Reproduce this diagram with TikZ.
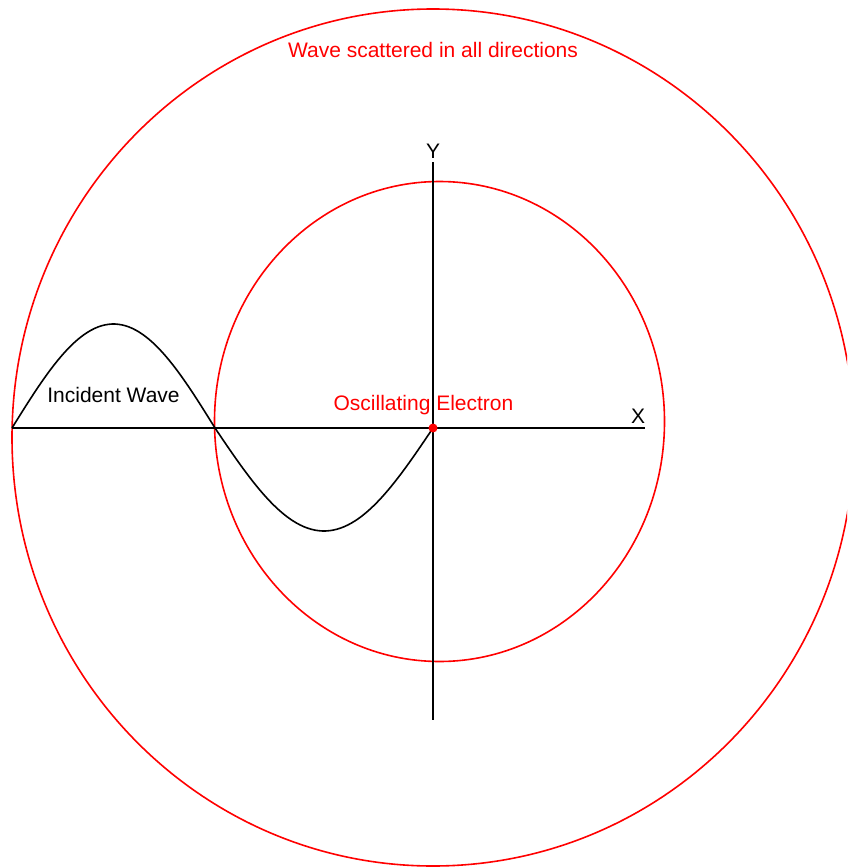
\documentclass[tikz,border=0pt]{standalone}
\usepackage{fontspec}
\setmainfont{Liberation Sans}
\usepackage{tikz}
\usetikzlibrary{positioning}

\begin{document}
\begin{tikzpicture}[
    x=1pt, y=-1pt,
    font=\fontsize{21}{25}\selectfont,
    wavefront/.style = {draw=red, line width=1.6pt},
    axis/.style = {draw=black, line width=1.6pt},
    lbl/.style = {anchor=base, inner sep=0pt},
    redlbl/.style = {lbl, text=red},
    dot/.style = {circle, fill=red, inner sep=0pt, minimum size=9pt}
]
    \useasboundingbox (0,0) rectangle (847,867);
    \clip (0,0) rectangle (847,867);
    \fill[white] (0,0) rectangle (847,867);

    \coordinate (xleft) at (12,428);
    \coordinate (xright) at (645,428);
    \coordinate (ytop) at (433,162);
    \coordinate (ybottom) at (433,720);

    \draw[wavefront] (433,437.5) ellipse [x radius=421pt, y radius=428.5pt];
    \draw[wavefront] (439.5,421.5) ellipse [x radius=225pt, y radius=240pt];

    \draw[axis] (xleft) -- (xright);
    \draw[axis] (ytop) -- (ybottom);
    \draw[axis] plot[domain=12:215, samples=60, smooth] (\x, {428-104*sin((\x-12)/203*180)})
        -- plot[domain=215:433, samples=60, smooth] (\x, {428+103*sin((\x-215)/218*180)});

    \node[dot] (electron) at (433,428) {};

    \node[redlbl] (scatlbl) at (433,58) {Wave scattered in all directions};
    \node[lbl] (inclbl) at (113.5,402) {Incident Wave};
    \node[redlbl] (osclbl) at (423.5,410.5) {Oscillating Electron};
    \node[lbl] (xlbl) at (638,423) {X};
    \node[lbl] (ylbl) at (433,158) {Y};
\end{tikzpicture}
\end{document}
